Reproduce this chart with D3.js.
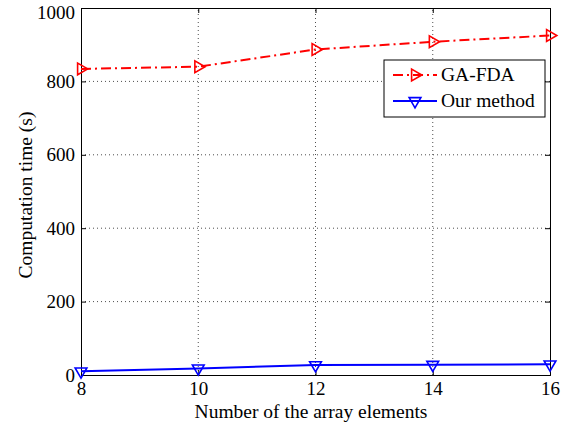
<!DOCTYPE html>
<html>
<head>
<meta charset="utf-8">
<script src="https://cdn.jsdelivr.net/npm/d3@7"></script>
<style>
  body { margin: 0; background: #fff; }
  text { font-family: "Liberation Serif", "Times New Roman", serif; }
</style>
</head>
<body>
<div id="chart"></div>
<script>
const width = 570;
const height = 425;
const margin = { top: 8, right: 20, bottom: 50, left: 81 };

const elements = [8, 10, 12, 14, 16];
const gaFda = [834, 840, 887, 908, 925];
const ourMethod = [10, 18, 27, 28, 29];
const yTicks = [0, 200, 400, 600, 800, 1000];

const svg = d3.select("#chart")
    .append("svg")
    .attr("width", width)
    .attr("height", height);

const x = d3.scaleLinear().domain([8, 16]).range([margin.left, width - margin.right]);
const y = d3.scaleLinear().domain([0, 1000]).range([height - margin.bottom, margin.top]);

// dotted grid
svg.append("g")
    .selectAll("line")
    .data(elements.slice(1, -1))
    .join("line")
    .attr("x1", d => x(d)).attr("x2", d => x(d))
    .attr("y1", y(0)).attr("y2", y(1000))
    .attr("stroke", "#000").attr("stroke-width", 0.7)
    .attr("stroke-dasharray", "1,3");

svg.append("g")
    .selectAll("line")
    .data(yTicks.slice(1, -1))
    .join("line")
    .attr("x1", x(8)).attr("x2", x(16))
    .attr("y1", d => y(d)).attr("y2", d => y(d))
    .attr("stroke", "#000").attr("stroke-width", 0.7)
    .attr("stroke-dasharray", "1,3");

// axes, ticks pointing inward
const xAxis = svg.append("g")
    .attr("transform", "translate(0," + y(0) + ")")
    .call(d3.axisBottom(x).tickValues(elements).tickSize(-5).tickPadding(7).tickFormat(d3.format("d")));
const xTop = svg.append("g")
    .attr("transform", "translate(0," + y(1000) + ")")
    .call(d3.axisTop(x).tickValues(elements).tickSize(-5).tickFormat(""));
const yAxis = svg.append("g")
    .attr("transform", "translate(" + x(8) + ",0)")
    .call(d3.axisLeft(y).tickValues(yTicks).tickSize(-5).tickPadding(6).tickFormat(d3.format("d")));
const yRight = svg.append("g")
    .attr("transform", "translate(" + x(16) + ",0)")
    .call(d3.axisRight(y).tickValues(yTicks).tickSize(-5).tickFormat(""));

[xAxis, xTop, yAxis, yRight].forEach(g => {
    g.attr("font-family", null).attr("font-size", null);
    g.select(".domain").attr("stroke", "#000").attr("stroke-width", 1);
    g.selectAll(".tick line").attr("stroke", "#000");
    g.selectAll("text").attr("font-size", 19).attr("fill", "#000");
});

// top label sits a little lower so it stays inside the page
yAxis.selectAll(".tick text").filter(d => d === 1000).attr("y", 4);

// axis titles
svg.append("text")
    .attr("x", 311)
    .attr("y", 418)
    .attr("text-anchor", "middle")
    .attr("font-size", 19.5)
    .text("Number of the array elements");

svg.append("text")
    .attr("transform", "translate(32,195) rotate(-90)")
    .attr("text-anchor", "middle")
    .attr("font-size", 19.5)
    .text("Computation time (s)");

// series
const line = d3.line().x((d, i) => x(elements[i])).y(d => y(d));
const tri = d3.symbol().type(d3.symbolTriangle).size(60);

svg.append("path")
    .datum(gaFda)
    .attr("d", line)
    .attr("fill", "none")
    .attr("stroke", "#ff0000")
    .attr("stroke-width", 2)
    .attr("stroke-dasharray", "10,4,2,4");

svg.append("g")
    .selectAll("path")
    .data(gaFda)
    .join("path")
    .attr("d", tri)
    .attr("transform", (d, i) => "translate(" + x(elements[i]) + "," + y(d) + ") rotate(90)")
    .attr("fill", "none")
    .attr("stroke", "#ff0000")
    .attr("stroke-width", 1.6);

svg.append("path")
    .datum(ourMethod)
    .attr("d", line)
    .attr("fill", "none")
    .attr("stroke", "#0000ff")
    .attr("stroke-width", 2);

svg.append("g")
    .selectAll("path")
    .data(ourMethod)
    .join("path")
    .attr("d", tri)
    .attr("transform", (d, i) => "translate(" + x(elements[i]) + "," + y(d) + ") rotate(180)")
    .attr("fill", "none")
    .attr("stroke", "#0000ff")
    .attr("stroke-width", 1.6);

// legend
const legend = svg.append("g").attr("transform", "translate(384,60)");
legend.append("rect")
    .attr("width", 161).attr("height", 57)
    .attr("fill", "#fff").attr("stroke", "#000").attr("stroke-width", 1);

const legendItems = [
    { name: "GA-FDA", color: "#ff0000", dash: "10,4,2,4", rot: 90 },
    { name: "Our method", color: "#0000ff", dash: null, rot: 180 }
];

legendItems.forEach((it, i) => {
    const yy = 15 + i * 26;
    legend.append("line")
        .attr("x1", 9).attr("x2", 53)
        .attr("y1", yy).attr("y2", yy)
        .attr("stroke", it.color).attr("stroke-width", 2)
        .attr("stroke-dasharray", it.dash);
    legend.append("path")
        .attr("d", tri)
        .attr("transform", "translate(31," + yy + ") rotate(" + it.rot + ")")
        .attr("fill", "none").attr("stroke", it.color).attr("stroke-width", 1.6);
    legend.append("text")
        .attr("x", 57).attr("y", yy + 6)
        .attr("font-size", 19.5)
        .text(it.name);
});
</script>
</body>
</html>
